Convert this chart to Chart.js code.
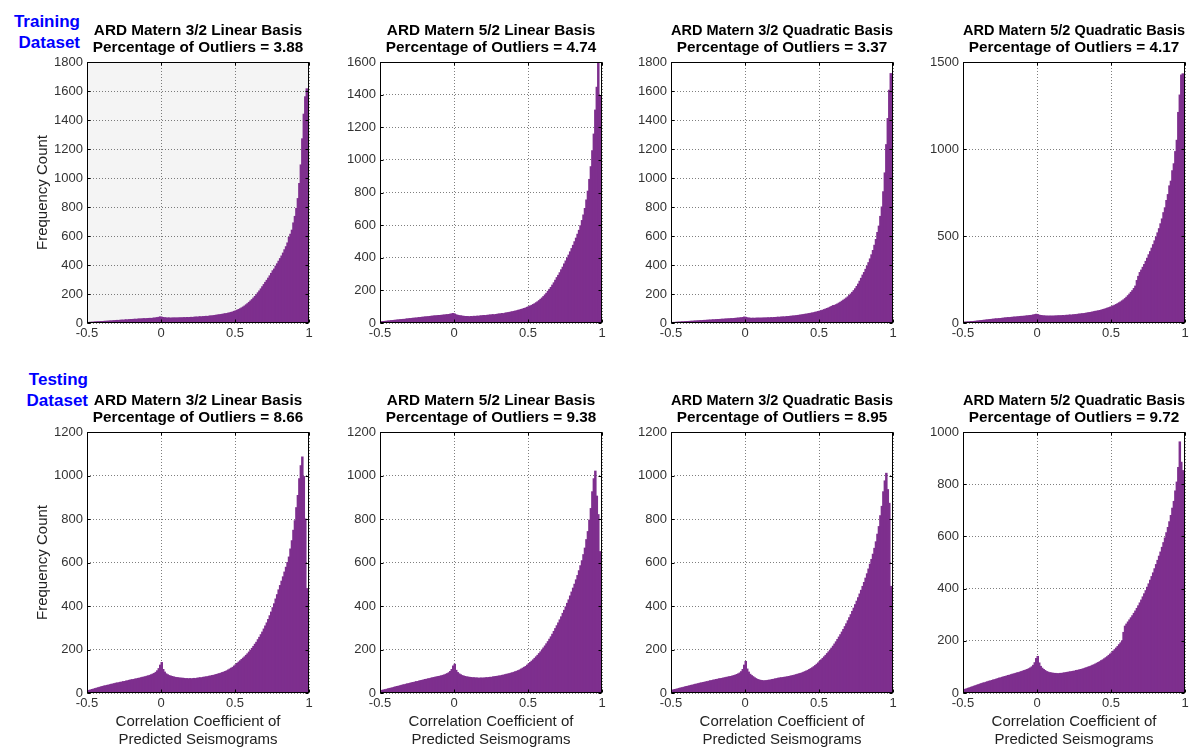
<!DOCTYPE html>
<html>
<head>
<meta charset="utf-8">
<title>Correlation coefficient histograms</title>
<script src="https://cdn.jsdelivr.net/npm/chart.js@4.4.1/dist/chart.umd.min.js"></script>
<style>
    html, body { margin: 0; padding: 0; background: #fff; overflow: hidden; }
    #figure { position: relative; width: 1192px; height: 747px; }
    #figure canvas { position: absolute; }
    .row-label {
        position: absolute;
        width: 90px;
        text-align: right;
        font: bold 17px Arial, "Liberation Sans", sans-serif;
        line-height: 21px;
        color: #0000ff;
    }
</style>
</head>
<body>
<div id="figure">
    <div class="row-label" style="left:-10px; top:11px;">Training<br>Dataset</div>
    <div class="row-label" style="left:-2px; top:369px;">Testing<br>Dataset</div>
</div>

<script>
// Histograms of the correlation coefficient between observed and predicted seismograms

const binWidth = 0.01;
const binCenters = Array.from({ length: 150 }, (_, i) => +(-0.5 + binWidth * (i + 0.5)).toFixed(3));

const kernelTitles = [
    'ARD Matern 3/2 Linear Basis',
    'ARD Matern 5/2 Linear Basis',
    'ARD Matern 3/2 Quadratic Basis',
    'ARD Matern 5/2 Quadratic Basis'
];
const trainOutliers = [3.88, 4.74, 3.37, 4.17];
const testOutliers = [8.66, 9.38, 8.95, 9.72];
const trainYMax = [1800, 1600, 1800, 1500];
const trainYStep = [200, 200, 200, 500];
const testYMax = [1200, 1200, 1200, 1000];
const testYStep = [200, 200, 200, 200];
const xTicks = [-0.5, 0, 0.5, 1];
const xTitle = ['Correlation Coefficient of', 'Predicted Seismograms'];
const yTitle = 'Frequency Count';

// counts per bin, -0.5 .. 1.0 (ten bins per row)
const trainM32Lin = [
    3, 4, 5, 5, 6, 7, 8, 8, 9, 10,
    10, 11, 12, 12, 13, 14, 14, 15, 16, 17,
    18, 17, 19, 20, 19, 21, 22, 21, 23, 24,
    24, 25, 26, 25, 27, 28, 27, 29, 30, 29,
    30, 31, 32, 31, 33, 34, 35, 37, 39, 42,
    40, 38, 36, 35, 34, 35, 33, 34, 35, 34,
    35, 34, 36, 35, 36, 37, 36, 38, 37, 38,
    39, 38, 40, 41, 40, 42, 43, 42, 44, 45,
    46, 45, 47, 49, 48, 51, 52, 54, 55, 57,
    58, 60, 62, 64, 65, 68, 70, 73, 76, 80,
    84, 88, 93, 98, 104, 110, 117, 125, 133, 142,
    152, 161, 172, 183, 195, 208, 221, 235, 250, 265,
    280, 294, 309, 325, 342, 360, 372, 392, 408, 426,
    444, 462, 482, 505, 526, 552, 590, 612, 640, 690,
    735, 790, 858, 962, 1090, 1270, 1440, 1560, 1615, 1130
];
const trainM52Lin = [
    6, 8, 9, 10, 11, 12, 13, 14, 15, 16,
    17, 18, 19, 20, 21, 22, 22, 24, 25, 26,
    27, 28, 29, 30, 30, 32, 33, 34, 35, 36,
    37, 38, 38, 40, 41, 42, 43, 44, 44, 46,
    46, 47, 48, 49, 50, 51, 52, 54, 56, 58,
    55, 50, 47, 45, 44, 42, 41, 40, 40, 39,
    38, 40, 39, 41, 40, 42, 41, 43, 44, 45,
    46, 45, 47, 48, 49, 50, 51, 50, 52, 54,
    55, 56, 58, 57, 60, 62, 63, 65, 67, 69,
    71, 73, 75, 78, 80, 83, 86, 89, 92, 96,
    100, 104, 108, 113, 118, 124, 130, 137, 145, 153,
    162, 172, 182, 194, 206, 218, 232, 246, 262, 278,
    292, 308, 326, 342, 362, 380, 398, 416, 436, 456,
    476, 498, 520, 544, 568, 596, 628, 662, 702, 754,
    808, 880, 958, 1056, 1158, 1305, 1445, 1595, 1390, 260
];
const trainM32Quad = [
    3, 4, 4, 5, 6, 6, 7, 8, 8, 9,
    10, 10, 11, 12, 12, 13, 14, 14, 15, 16,
    16, 17, 18, 18, 19, 20, 20, 21, 22, 22,
    23, 24, 24, 25, 26, 26, 27, 28, 28, 29,
    30, 30, 31, 32, 33, 34, 35, 36, 38, 41,
    39, 36, 34, 33, 32, 33, 32, 33, 34, 33,
    34, 33, 35, 34, 35, 36, 35, 37, 36, 38,
    38, 39, 40, 39, 41, 42, 41, 43, 44, 45,
    46, 47, 48, 49, 50, 52, 53, 55, 56, 58,
    60, 61, 63, 65, 67, 69, 71, 74, 76, 79,
    82, 85, 88, 92, 96, 100, 104, 109, 114, 120,
    121, 126, 131, 137, 143, 150, 157, 164, 172, 180,
    190, 200, 211, 223, 236, 252, 268, 288, 308, 330,
    348, 370, 392, 416, 442, 470, 500, 536, 576, 624,
    668, 735, 800, 905, 1035, 1230, 1410, 1605, 1720, 1380
];
const trainM52Quad = [
    4, 5, 6, 6, 7, 8, 8, 9, 10, 11,
    12, 13, 14, 15, 16, 17, 18, 19, 20, 21,
    22, 23, 24, 24, 25, 26, 27, 28, 29, 30,
    31, 31, 32, 33, 34, 34, 35, 36, 37, 38,
    38, 39, 40, 41, 42, 43, 44, 46, 48, 50,
    48, 45, 43, 42, 41, 40, 40, 39, 40, 39,
    40, 39, 41, 40, 42, 41, 42, 43, 42, 44,
    44, 45, 46, 45, 47, 48, 48, 50, 51, 52,
    53, 54, 55, 57, 58, 60, 61, 63, 65, 67,
    68, 70, 72, 74, 77, 79, 82, 85, 88, 91,
    94, 98, 102, 106, 111, 116, 121, 127, 133, 140,
    148, 157, 166, 176, 186, 198, 212, 244, 268, 290,
    304, 320, 336, 354, 372, 392, 410, 430, 450, 472,
    494, 518, 542, 570, 598, 634, 662, 704, 738, 788,
    815, 875, 915, 985, 1050, 1210, 1310, 1425, 1432, 1050
];
const testM32Lin = [
    10, 12, 14, 16, 18, 20, 22, 24, 26, 28,
    30, 32, 33, 35, 36, 38, 40, 41, 43, 45,
    46, 47, 49, 50, 52, 53, 55, 56, 58, 60,
    61, 62, 64, 65, 67, 68, 70, 72, 73, 75,
    77, 79, 81, 84, 87, 90, 95, 102, 112, 128,
    140, 108, 96, 88, 84, 80, 78, 76, 74, 72,
    71, 70, 69, 68, 68, 67, 66, 66, 65, 66,
    65, 66, 67, 66, 68, 69, 70, 70, 72, 73,
    74, 75, 77, 78, 80, 81, 83, 85, 87, 89,
    91, 94, 96, 99, 102, 106, 110, 114, 118, 124,
    130, 136, 142, 148, 154, 160, 166, 173, 180, 188,
    196, 205, 214, 224, 233, 245, 256, 268, 280, 294,
    308, 322, 338, 355, 372, 392, 410, 432, 452, 474,
    494, 514, 534, 556, 578, 600, 625, 662, 700, 748,
    792, 852, 908, 985, 1045, 1085, 995, 800, 480, 130
];
const testM52Lin = [
    10, 12, 14, 15, 17, 19, 21, 22, 24, 26,
    28, 30, 31, 33, 35, 37, 38, 40, 42, 43,
    45, 47, 48, 50, 52, 53, 55, 57, 58, 60,
    62, 63, 65, 66, 68, 70, 71, 73, 74, 76,
    77, 79, 81, 83, 86, 89, 93, 99, 108, 124,
    132, 104, 94, 88, 84, 80, 78, 76, 74, 73,
    72, 71, 70, 70, 69, 69, 68, 68, 69, 68,
    69, 70, 70, 71, 72, 72, 74, 75, 76, 77,
    78, 79, 81, 82, 84, 86, 87, 89, 91, 93,
    95, 98, 100, 103, 106, 110, 114, 118, 122, 128,
    134, 140, 146, 152, 159, 166, 173, 181, 189, 198,
    207, 216, 226, 236, 247, 258, 270, 283, 296, 309,
    322, 336, 350, 366, 380, 396, 412, 428, 446, 464,
    482, 500, 520, 540, 562, 585, 608, 636, 666, 705,
    742, 795, 848, 925, 985, 1020, 905, 820, 650, 430
];
const testM32Quad = [
    12, 14, 16, 17, 19, 21, 23, 24, 26, 28,
    30, 31, 33, 35, 36, 38, 40, 41, 43, 45,
    46, 48, 49, 51, 52, 54, 56, 57, 59, 60,
    62, 63, 65, 66, 67, 69, 70, 72, 73, 75,
    76, 78, 80, 82, 85, 88, 92, 98, 108, 128,
    145, 110, 96, 86, 80, 75, 70, 66, 62, 60,
    58, 57, 56, 56, 57, 58, 59, 60, 62, 63,
    65, 66, 68, 69, 70, 71, 72, 73, 74, 76,
    77, 79, 80, 82, 84, 86, 88, 90, 92, 95,
    98, 101, 104, 108, 112, 116, 121, 126, 132, 138,
    145, 152, 159, 166, 173, 181, 189, 197, 206, 215,
    225, 235, 246, 257, 268, 280, 292, 305, 318, 332,
    346, 360, 375, 390, 406, 422, 438, 455, 472, 490,
    508, 528, 548, 570, 592, 614, 638, 665, 695, 730,
    765, 815, 858, 925, 975, 1010, 935, 872, 490, 100
];
const testM52Quad = [
    12, 14, 16, 18, 20, 22, 24, 26, 28, 30,
    32, 34, 36, 38, 39, 41, 43, 45, 46, 48,
    50, 51, 53, 55, 57, 58, 60, 62, 63, 65,
    67, 68, 70, 72, 73, 75, 77, 78, 80, 82,
    84, 86, 88, 90, 93, 96, 100, 106, 116, 132,
    140, 115, 102, 95, 90, 86, 82, 80, 78, 77,
    76, 75, 75, 74, 74, 75, 75, 76, 77, 78,
    79, 80, 81, 82, 83, 84, 86, 87, 88, 90,
    91, 93, 95, 97, 99, 101, 103, 106, 108, 111,
    114, 117, 120, 124, 127, 131, 135, 139, 144, 149,
    154, 160, 166, 172, 178, 185, 192, 200, 232, 256,
    264, 272, 280, 288, 296, 305, 314, 324, 334, 345,
    356, 368, 380, 392, 405, 418, 432, 446, 460, 476,
    492, 508, 524, 540, 558, 576, 594, 614, 634, 656,
    680, 708, 734, 774, 808, 864, 962, 884, 852, 520
];

const trainSeries = [trainM32Lin, trainM52Lin, trainM32Quad, trainM52Quad];
const testSeries = [testM32Lin, testM52Lin, testM32Quad, testM52Quad];

// panel placement on the page (each canvas starts 87px left of its plot box)
const columnLefts = [0, 293, 584, 876];
const rowTops = [0, 370];

const barColor = '#7e2f8e';
const gridColor = 'rgba(0, 0, 0, 0.5)';
const textColor = '#333';

Chart.defaults.font.family = 'Arial, "Liberation Sans", Helvetica, sans-serif';

// axes box with small inward ticks, plus optional shaded plot background
const plotFrame = {
    id: 'plotFrame',
    beforeDraw(chart, args, opts) {
        if (!opts.background) return;
        const { ctx, chartArea: a } = chart;
        ctx.save();
        ctx.fillStyle = opts.background;
        ctx.fillRect(a.left, a.top, a.width, a.height);
        ctx.restore();
    },
    afterDatasetsDraw(chart) {
        const { ctx, chartArea: a, scales } = chart;
        const l = Math.round(a.left) + 0.5, r = Math.round(a.right) - 0.5;
        const t = Math.round(a.top) + 0.5, b = Math.round(a.bottom) - 0.5;
        ctx.save();
        ctx.strokeStyle = '#000';
        ctx.lineWidth = 1;
        ctx.strokeRect(l, t, r - l, b - t);
        ctx.beginPath();
        scales.x.ticks.forEach(tk => {
            const px = Math.round(scales.x.getPixelForValue(tk.value)) + 0.5;
            ctx.moveTo(px, b); ctx.lineTo(px, b - 3);
            ctx.moveTo(px, t); ctx.lineTo(px, t + 3);
        });
        scales.y.ticks.forEach(tk => {
            const py = Math.round(scales.y.getPixelForValue(tk.value)) + 0.5;
            ctx.moveTo(l, py); ctx.lineTo(l + 3, py);
            ctx.moveTo(r, py); ctx.lineTo(r - 3, py);
        });
        ctx.stroke();
        ctx.restore();
    }
};

function makePanel(row, col) {
    const isTest = row === 1;
    const values = isTest ? testSeries[col] : trainSeries[col];
    const pct = isTest ? testOutliers[col] : trainOutliers[col];
    const yMax = isTest ? testYMax[col] : trainYMax[col];
    const yStep = isTest ? testYStep[col] : trainYStep[col];

    const canvas = document.createElement('canvas');
    canvas.width = 396;
    canvas.height = isTest ? 379 : 345;
    canvas.style.left = columnLefts[col] + 'px';
    canvas.style.top = rowTops[row] + 'px';
    document.getElementById('figure').appendChild(canvas);

    return new Chart(canvas.getContext('2d'), {
        type: 'bar',
        data: {
            datasets: [{
                data: values.map((v, i) => ({ x: binCenters[i], y: v })),
                backgroundColor: barColor,
                borderWidth: 0,
                barPercentage: 1,
                categoryPercentage: 1,
                inflateAmount: 0.5   // close the hairline gaps between neighbouring bins
            }]
        },
        options: {
            responsive: false,
            animation: false,
            events: [],
            layout: { padding: { left: 0, right: 87, top: 0, bottom: 0 } },
            plugins: {
                legend: { display: false },
                tooltip: { enabled: false },
                title: {
                    display: true,
                    fullSize: false,
                    text: [kernelTitles[col], 'Percentage of Outliers = ' + pct.toFixed(2)],
                    color: '#000',
                    font: { size: 15.3, weight: 'bold', lineHeight: '17px' },
                    padding: { top: 22, bottom: 6 }
                },
                plotFrame: { background: (row === 0 && col === 0) ? '#f4f4f4' : null }
            },
            scales: {
                x: {
                    type: 'linear',
                    min: -0.5,
                    max: 1,
                    offset: false,
                    afterBuildTicks: s => { s.ticks = xTicks.map(v => ({ value: v })); },
                    afterFit: s => { s.height = isTest ? 56 : 22; },
                    grid: { offset: false, drawTicks: false, color: gridColor },
                    border: { display: false, dash: [1, 2] },
                    ticks: {
                        padding: 3,
                        maxRotation: 0,
                        autoSkip: false,
                        color: textColor,
                        font: { size: 13 },
                        callback: v => String(v)
                    },
                    title: {
                        display: isTest,
                        text: xTitle,
                        color: '#222',
                        font: { size: 15, lineHeight: '18px' },
                        padding: { top: 0, bottom: 0 }
                    }
                },
                y: {
                    min: 0,
                    max: yMax,
                    afterFit: s => { s.width = 87; },
                    grid: { drawTicks: false, color: gridColor },
                    border: { display: false, dash: [1, 2] },
                    ticks: {
                        stepSize: yStep,
                        padding: 4,
                        color: textColor,
                        font: { size: 13 },
                        callback: v => String(v)
                    },
                    title: {
                        display: col === 0,
                        text: yTitle,
                        color: '#222',
                        font: { size: 15, lineHeight: '18px' },
                        padding: { top: 33.5, bottom: 0 }
                    }
                }
            }
        },
        plugins: [plotFrame]
    });
}

document.addEventListener('DOMContentLoaded', () => {
    for (let row = 0; row < 2; row++) {
        for (let col = 0; col < 4; col++) {
            makePanel(row, col);
        }
    }
});
</script>
</body>
</html>
